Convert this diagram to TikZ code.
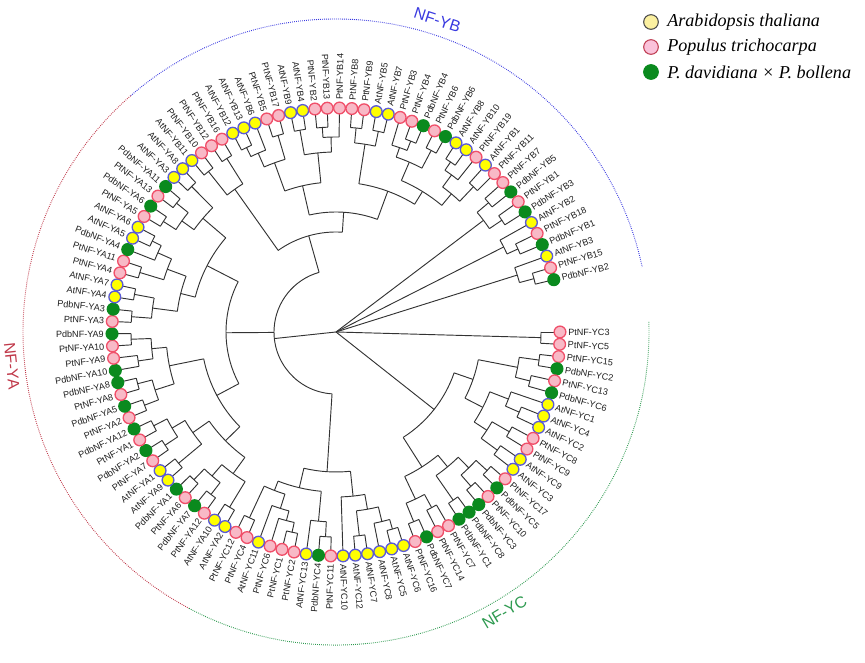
\documentclass[tikz,border=0pt]{standalone}
\usepackage{fontspec}
\setmainfont{Liberation Sans}
\newfontfamily\legfont{Liberation Serif}
\definecolor{ycol}{HTML}{FFFF00}
\definecolor{ycolD}{HTML}{5B5BD6}
\definecolor{pcol}{HTML}{F8B9C6}
\definecolor{pcolD}{HTML}{F0506A}
\definecolor{gcol}{HTML}{0A8A1E}
\definecolor{treeC}{HTML}{333333}
\definecolor{blueG}{HTML}{3A3AE0}
\definecolor{redG}{HTML}{C0394A}
\definecolor{greenG}{HTML}{2E9A50}
\definecolor{legY}{HTML}{FBF0A0}
\definecolor{legP}{HTML}{FAC2DA}
\tikzset{
  tl/.style={draw=treeC,line width=0.7pt},
  dotbase/.style={circle,inner sep=0pt,minimum size=8.8pt,line width=1pt},
  doty/.style={dotbase,fill=ycol,draw=ycolD},
  dotp/.style={dotbase,fill=pcol,draw=pcolD},
  dotg/.style={dotbase,fill=gcol,draw=gcol},
  lab/.style={inner sep=0pt,font=\fontsize{6.8}{7}\selectfont,text=black!88},
  grp/.style={line width=0.7pt,dash pattern=on 0.6pt off 0.9pt},
  glab/.style={font=\fontsize{12}{14}\selectfont},
  legdot/.style={circle,inner sep=0pt,minimum size=11pt,line width=0.8pt},
  legtxt/.style={anchor=west,inner sep=0pt,font=\legfont\itshape\fontsize{13.6}{16}\selectfont}
}
\begin{document}
\begin{tikzpicture}[x=0.75pt,y=0.75pt]
\useasboundingbox (0,0) rectangle (865,663);
\begin{scope}[shift={(336,331)}]
% group arcs
\draw[grp,blueG] (131:313) arc[start angle=131,end angle=12,radius=313];
\draw[grp,redG] (131:313) arc[start angle=131,end angle=242,radius=313];
\draw[grp,greenG] (242:313) arc[start angle=242,end angle=362,radius=313];
\node[glab,text=blueG,rotate=-18] (gB) at (72:328) {NF-YB};
\node[glab,text=redG,rotate=-84] (gA) at (186:326) {NF-YA};
\node[glab,text=greenG,rotate=31] (gC) at (-59:327) {NF-YC};
% internal nodes: p / r / parent r / first child p / last child p
\foreach \p/\r/\rp/\pa/\pb in {
1.5/205/0/1/2, 3.5/205/185/3/4, 5.5/200/185/5/6, 4.5/185/145/3.5/5.5,
8.5/200/185/8/9, 7.75/185/165/7/8.5, 10.5/200/180/10/11, 12.5/200/180/12/13,
11.5/180/165/10.5/12.5, 9.625/165/145/7.75/11.5, 7.0625/145/125/4.5/9.625,
14.5/205/190/14/15, 16.5/205/190/16/17, 15.5/190/175/14.5/16.5, 18.5/205/175/18/19,
17/175/160/15.5/18.5, 20.5/200/185/20/21, 22.5/205/185/22/23, 21.5/185/160/20.5/22.5,
19.25/160/125/17/21.5, 13.15625/125/0/7.0625/19.25,
24.5/205/195/24/25, 25.25/195/180/24.5/26, 27.5/205/180/27/28, 26.375/180/165/25.25/27.5,
27.6875/165/140/26.375/29, 30.5/205/190/30/31, 31.25/190/160/30.5/32,
33.5/205/195/33/34, 34.25/195/185/33.5/35, 35.125/185/170/34.25/36, 37.5/205/170/37/38,
36.3125/170/160/35.125/37.5, 33.78125/160/140/31.25/36.3125, 30.734375/140/62/27.6875/33.78125,
39.5/205/175/39/40, 41.5/205/190/41/42, 43.5/205/190/43/44, 42.5/190/175/41.5/43.5,
41/175/155/39.5/42.5, 45.5/205/175/45/46, 47.5/205/190/47/48, 49.5/205/190/49/50,
48.5/190/175/47.5/49.5, 47/175/155/45.5/48.5, 44/155/135/41/47,
51.5/205/190/51/52, 53.5/205/190/53/54, 52.5/190/170/51.5/53.5, 55.5/200/185/55/56,
57.5/205/185/57/58, 56.5/185/170/55.5/57.5, 54.5/170/135/52.5/56.5, 49.25/135/110/44/54.5,
59.5/205/185/59/60, 61.5/205/185/61/62, 60.5/185/160/59.5/61.5, 63.5/205/180/63/64,
66.5/205/195/66/67, 65.75/195/180/65/66.5, 64.625/180/160/63.5/65.75, 62.5625/160/145/60.5/64.625,
68.5/205/190/68/69, 70.5/205/190/70/71, 69.5/190/175/68.5/70.5, 72.5/205/175/72/73,
71/175/145/69.5/72.5, 66.78125/145/110/62.5625/71, 58.015625/110/62/49.25/66.78125,
74.5/205/175/74/75, 76.5/205/175/76/77, 75.5/175/100/74.5/76.5, 78.5/205/195/78/79,
79.25/195/180/78.5/80, 81.5/205/180/81/82, 80.375/180/150/79.25/81.5, 83.5/205/180/83/84,
85.5/205/195/85/86, 86.25/195/180/85.5/87, 84.875/180/150/83.5/86.25, 82.625/150/120/80.375/84.875,
88.5/205/190/88/89, 90.5/205/190/90/91, 89.5/190/150/88.5/90.5, 93.5/205/195/93/94,
92.75/195/185/92/93.5, 95.5/205/185/95/96, 94.125/185/165/92.75/95.5, 97.5/205/195/97/98,
98.25/195/180/97.5/99, 100.5/200/180/100/101, 99.375/180/165/98.25/100.5, 96.75/165/150/94.125/99.375,
93.125/150/120/89.5/96.75, 87.875/120/100/82.625/93.125, 81.6875/100/62/75.5/87.875,
56.2109/62/0/30.734375/81.6875,
102.5/200/185/102/103, 104.5/200/185/104/105, 103.5/185/0/102.5/104.5,
107.5/200/188/107/108, 106.75/188/0/106/107.5, 110.5/205/190/110/111, 109.75/190/0/109/110.5}{
  \pgfmathsetmacro\a{-(\p-1)*3.15}
  \pgfmathsetmacro\aa{-(\pa-1)*3.15}
  \pgfmathsetmacro\ab{-(\pb-1)*3.15}
  \draw[tl] (\a:\rp) -- (\a:\r);
  \draw[tl] (\aa:\r) arc[start angle=\aa,end angle=\ab,radius=\r];
}
% leaves: index / parent r / species / label
\foreach \i/\rp/\sp/\nm in {
1/205/p/PtNF-YC3, 2/205/p/PtNF-YC5, 3/205/p/PtNF-YC15, 4/205/g/PdbNF-YC2,
5/200/p/PtNF-YC13, 6/200/g/PdbNF-YC6, 7/185/y/AtNF-YC1, 8/200/y/AtNF-YC4,
9/200/y/AtNF-YC2, 10/200/p/PtNF-YC8, 11/200/p/PtNF-YC9, 12/200/y/AtNF-YC9,
13/200/y/AtNF-YC3, 14/205/p/PtNF-YC17, 15/205/g/PdbNF-YC5, 16/205/p/PtNF-YC10,
17/205/g/PdbNF-YC3, 18/205/g/PdbNF-YC8, 19/205/g/PdbNF-YC1, 20/200/p/PtNF-YC7,
21/200/p/PtNF-YC14, 22/205/g/PdbNF-YC7, 23/205/p/PtNF-YC16, 24/205/y/AtNF-YC6,
25/205/y/AtNF-YC5, 26/195/y/AtNF-YC8, 27/205/y/AtNF-YC7, 28/205/y/AtNF-YC12,
29/165/y/AtNF-YC10, 30/205/p/PtNF-YC11, 31/205/g/PdbNF-YC4, 32/190/y/AtNF-YC13,
33/205/p/PtNF-YC2, 34/205/p/PtNF-YC1, 35/195/p/PtNF-YC6, 36/185/y/AtNF-YC11,
37/205/p/PtNF-YC4, 38/205/p/PtNF-YC12, 39/205/y/AtNF-YA2, 40/205/y/AtNF-YA10,
41/205/p/PtNF-YA12, 42/205/g/PdbNF-YA7, 43/205/p/PtNF-YA6, 44/205/g/PdbNF-YA1,
45/205/y/AtNF-YA9, 46/205/y/AtNF-YA1, 47/205/p/PtNF-YA7, 48/205/g/PdbNF-YA2,
49/205/p/PtNF-YA1, 50/205/g/PdbNF-YA12, 51/205/p/PtNF-YA2, 52/205/g/PdbNF-YA5,
53/205/p/PtNF-YA8, 54/205/g/PdbNF-YA8, 55/200/g/PdbNF-YA10, 56/200/p/PtNF-YA9,
57/205/p/PtNF-YA10, 58/205/g/PdbNF-YA9, 59/205/p/PtNF-YA3, 60/205/g/PdbNF-YA3,
61/205/y/AtNF-YA4, 62/205/y/AtNF-YA7, 63/205/p/PtNF-YA4, 64/205/p/PtNF-YA11,
65/195/g/PdbNF-YA4, 66/205/y/AtNF-YA5, 67/205/y/AtNF-YA6, 68/205/p/PtNF-YA5,
69/205/g/PdbNF-YA6, 70/205/p/PtNF-YA13, 71/205/g/PdbNF-YA11, 72/205/y/AtNF-YA3,
73/205/y/AtNF-YA8, 74/205/y/AtNF-YB11, 75/205/p/PtNF-YB10, 76/205/p/PtNF-YB12,
77/205/p/PtNF-YB16, 78/205/y/AtNF-YB12, 79/205/y/AtNF-YB13, 80/195/y/AtNF-YB6,
81/205/p/PtNF-YB5, 82/205/p/PtNF-YB17, 83/205/y/AtNF-YB9, 84/205/y/AtNF-YB4,
85/205/p/PtNF-YB2, 86/205/p/PtNF-YB13, 87/195/p/PtNF-YB14, 88/205/p/PtNF-YB8,
89/205/p/PtNF-YB9, 90/205/y/AtNF-YB5, 91/205/y/AtNF-YB7, 92/195/p/PtNF-YB3,
93/205/p/PtNF-YB4, 94/205/g/PdbNF-YB4, 95/205/p/PtNF-YB6, 96/205/g/PdbNF-YB6,
97/205/y/AtNF-YB8, 98/205/y/AtNF-YB10, 99/195/p/PtNF-YB19, 100/200/y/AtNF-YB1,
101/200/p/PtNF-YB11, 102/200/p/PtNF-YB7, 103/200/g/PdbNF-YB5, 104/200/p/PtNF-YB1,
105/200/g/PdbNF-YB3, 106/188/y/AtNF-YB2, 107/200/p/PtNF-YB18, 108/200/g/PdbNF-YB1,
109/190/y/AtNF-YB3, 110/205/p/PtNF-YB15, 111/205/g/PdbNF-YB2}{
  \pgfmathsetmacro\ang{-(\i-1)*3.15}
  \draw[tl] (\ang:\rp) -- (\ang:218);
  \node[dot\sp] (D\i) at (\ang:224) {};
  \pgfmathtruncatemacro\isleft{and(\ang<-90,\ang>-270)}
  \ifnum\isleft=1
    \pgfmathsetmacro\rot{\ang+180}
    \node[lab,anchor=east,rotate=\rot] (L\i) at (\ang:232) {\nm};
  \else
    \node[lab,anchor=west,rotate=\ang] (L\i) at (\ang:232) {\nm};
  \fi
}
\end{scope}
% legend
\node[legdot,fill=legY,draw=black!70] (k1) at (651,641) {};
\node[legdot,fill=legP,draw=pcolD!80!black] (k2) at (651,616) {};
\node[legdot,fill=gcol,draw=gcol] (k3) at (651,591) {};
\node[legtxt] (t1) at (667,641) {Arabidopsis thaliana};
\node[legtxt] (t2) at (667,616) {Populus trichocarpa};
\node[legtxt] (t3) at (667,591) {P. davidiana \texttimes\ P. bollena};
\end{tikzpicture}
\end{document}
